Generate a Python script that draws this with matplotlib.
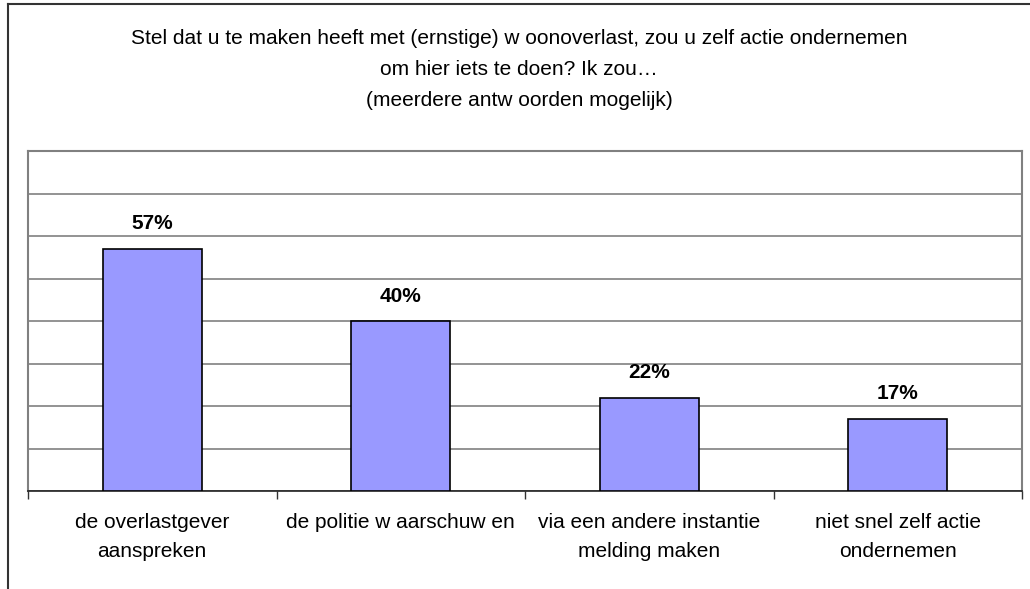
import numpy as np
import matplotlib.pyplot as plt
from matplotlib.lines import Line2D

categories = ["de overlastgever\naanspreken",
              "de politie w aarschuw en",
              "via een andere instantie\nmelding maken",
              "niet snel zelf actie\nondernemen"]
values = [57, 40, 22, 17]
title = ("Stel dat u te maken heeft met (ernstige) w oonoverlast, zou u zelf actie ondernemen\n"
         "om hier iets te doen? Ik zou…\n"
         "(meerdere antw oorden mogelijk)")

plt.rcParams['font.family'] = ['Liberation Sans', 'DejaVu Sans']

W, H = 1030, 589
fig = plt.figure(figsize=(W / 100, H / 100), dpi=100)

# outer frame of the chart (left and top only visible)
fig.add_artist(Line2D([8 / W, 8 / W], [0, 1 - 4 / H], color="#333333", lw=1.5))
fig.add_artist(Line2D([8 / W, 1], [1 - 4 / H, 1 - 4 / H], color="#333333", lw=1.5))

ax = fig.add_axes([28 / W, 1 - 491 / H, (1022 - 28) / W, (491 - 151) / H])

x = np.arange(len(categories))
ax.bar(x, values, width=0.4, color="#9999FF", edgecolor="black", linewidth=1.2, zorder=3)
for xi, v in zip(x, values):
    ax.annotate(f"{v}%", (xi, v), xytext=(0, 11), textcoords="offset points",
                ha="center", va="bottom", fontsize=15, fontweight="bold")

ax.set_xlim(-0.5, len(categories) - 0.5)
ax.set_ylim(0, 80)
ax.set_yticks(np.arange(0, 81, 10))
ax.set_yticklabels([])
ax.tick_params(axis="y", length=0)
ax.grid(axis="y", color="#808080", lw=1.2, zorder=0)

ax.set_xticks(np.arange(len(categories) + 1) - 0.5)
ax.set_xticklabels([])
ax.set_xticks(x, minor=True)
ax.set_xticklabels(categories, minor=True, fontsize=15, linespacing=1.65)
ax.tick_params(axis="x", which="major", length=6, color="#333333", width=1)
ax.tick_params(axis="x", which="minor", length=0, pad=16)

for s in ["left", "right", "top"]:
    ax.spines[s].set_color("#808080")
    ax.spines[s].set_linewidth(1.5)
ax.spines["bottom"].set_color("#222222")
ax.spines["bottom"].set_linewidth(1.2)

fig.text((8 + 1030) / 2 / W, 1 - 29 / H, title, ha="center", va="top",
         fontsize=15, linespacing=1.8)

fig.savefig("out.png", dpi=100)
